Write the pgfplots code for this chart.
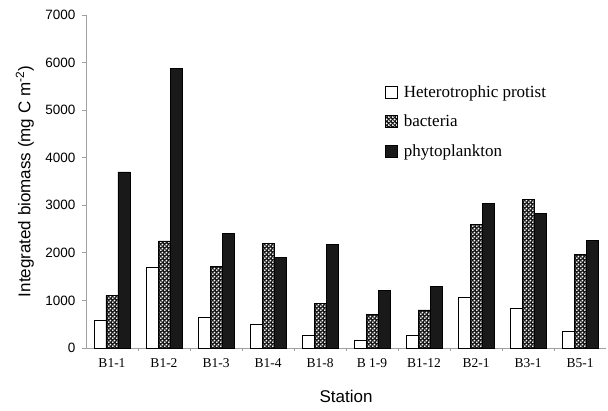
\documentclass[border=0pt]{standalone}
\usepackage{fontspec}
\setmainfont{Liberation Serif}
\newfontfamily\arial{Liberation Sans}
\usepackage{pgfplots}
\pgfplotsset{compat=1.18}
\usetikzlibrary{patterns}
\pgfdeclarepatternformonly{mydots}{\pgfpointorigin}{\pgfpoint{4pt}{4pt}}{\pgfpoint{4pt}{4pt}}{%
  \pgfpathcircle{\pgfpoint{1pt}{1pt}}{1.2pt}%
  \pgfpathcircle{\pgfpoint{3pt}{3pt}}{1.2pt}%
  \pgfusepath{fill}}
\definecolor{axgray}{RGB}{160,160,160}
\definecolor{barblack}{RGB}{25,25,25}
\begin{document}
\begin{tikzpicture}
\begin{axis}[
  at={(0,0)}, anchor=south west,
  scale only axis, width=520pt, height=333pt,
  xmin=-0.5, xmax=9.5, ymin=0, ymax=7000,
  axis x line=bottom, axis y line=left,
  axis line style={-, draw=axgray, line width=0.8pt},
  ybar=0pt, bar width=12pt,
  xtick={0,...,9},
  xticklabels={B1-1,B1-2,B1-3,B1-4,B1-8,B 1-9,B1-12,B2-1,B3-1,B5-1},
  x tick label style={font=\fontsize{13.5}{15}\selectfont, yshift=-3pt},
  major x tick style={draw=none},
  minor xtick={0.5,1.5,...,8.5},
  minor x tick style={draw=axgray, line width=0.8pt},
  minor tick length=3pt,
  ytick={0,1000,...,7000},
  y tick label style={font=\arial\fontsize{13.5}{15}\selectfont, xshift=-3pt},
  /pgf/number format/assume math mode=true,
  /pgf/number format/1000 sep={},
  major y tick style={draw=axgray, line width=0.8pt},
  major tick length=4pt,
  tick align=outside,
  ylabel={Integrated biomass (mg C m\textsuperscript{-2})},
  ylabel style={font=\arial\fontsize{17}{20}\selectfont, at={(axis description cs:-0.1174,0.5)}, anchor=center},
  xlabel={Station},
  xlabel style={font=\arial\fontsize{17}{20}\selectfont, at={(axis description cs:0.5,-0.144)}, anchor=center},
  legend style={draw=none, fill=none, at={(axis description cs:0.575,0.794)}, anchor=north west,
    font=\fontsize{17}{20}\selectfont, row sep=12pt, inner sep=0pt},
  legend cell align=left,
  legend image code/.code={\draw[#1, line width=0.6pt] (0pt,-6pt) rectangle (12pt,6pt);
    \path (16pt,0pt);},
]
\addplot[draw=black, line width=0.8pt, fill=white] coordinates {
(0,580) (1,1700) (2,650) (3,500) (4,270) (5,170) (6,270) (7,1060) (8,830) (9,340)};
\addplot[draw=black, line width=0.8pt, fill=barblack, postaction={pattern=mydots, pattern color=white}] coordinates {
(0,1100) (1,2250) (2,1710) (3,2200) (4,930) (5,700) (6,800) (7,2600) (8,3130) (9,1970)};
\addplot[draw=black, line width=0.8pt, fill=barblack] coordinates {
(0,3700) (1,5870) (2,2400) (3,1900) (4,2170) (5,1210) (6,1290) (7,3030) (8,2830) (9,2270)};
\legend{Heterotrophic protist, bacteria, phytoplankton}
\end{axis}
\pgfresetboundingbox
\path (-86pt,-62pt) rectangle (522pt,348pt);
\end{tikzpicture}
\end{document}
